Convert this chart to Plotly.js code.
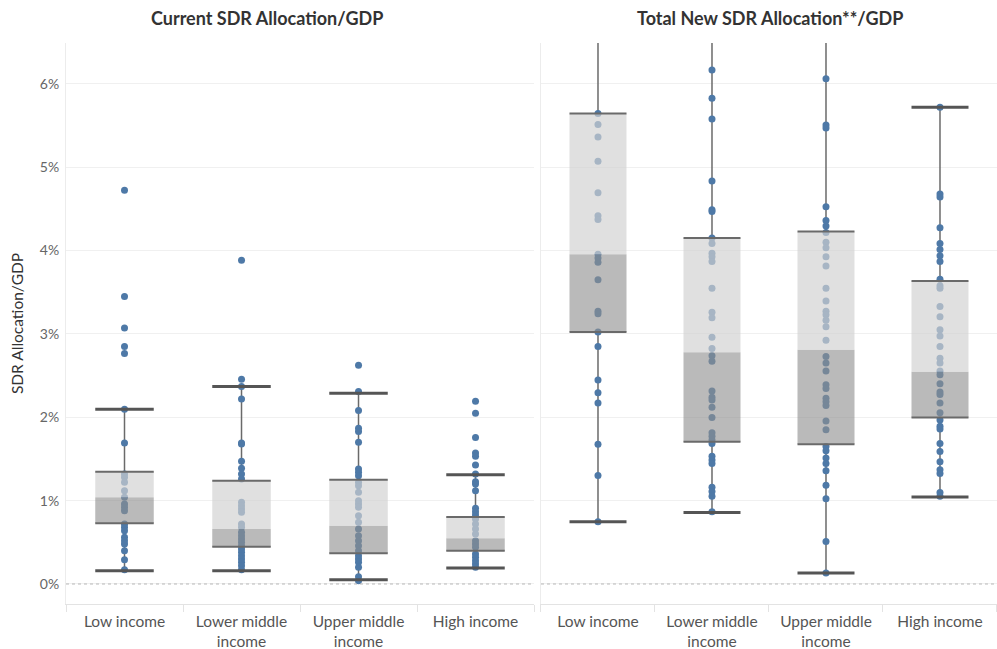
<!DOCTYPE html>
<html>
<head>
<meta charset="utf-8">
<script src="https://cdn.plot.ly/plotly-3.0.1.min.js"></script>
<style>
  html, body { margin: 0; padding: 0; background: #fff; }
  #chart { width: 997px; height: 649px; }
</style>
</head>
<body>
<div id="chart"></div>
<script>
// Income groups shown along both panels
const categories = ['Low income', 'Lower middle<br>income', 'Upper middle<br>income', 'High income'];

// Current SDR allocation as % of GDP: box summary per income group
const curLower  = [0.16, 0.16, 0.052, 0.192];
const curQ1     = [0.728, 0.448, 0.368, 0.40];
const curMedian = [1.04, 0.66, 0.70, 0.548];
const curQ3     = [1.348, 1.24, 1.252, 0.804];
const curUpper  = [2.096, 2.368, 2.288, 1.312];

// Current SDR allocation as % of GDP: individual countries
const curLowIncome = [4.724, 3.448, 3.072, 2.848, 2.764, 2.096, 1.692, 1.32, 1.28, 1.22, 1.12, 1.04,
  0.96, 0.92, 0.88, 0.72, 0.68, 0.64, 0.56, 0.52, 0.48, 0.40, 0.292, 0.172];
const curLowerMiddle = [3.884, 2.456, 2.368, 2.22, 1.692, 1.68, 1.472, 1.388, 1.32, 1.26, 0.98, 0.94,
  0.90, 0.86, 0.72, 0.68, 0.62, 0.58, 0.54, 0.50, 0.46, 0.42, 0.38, 0.34, 0.30, 0.26, 0.22, 0.172];
const curUpperMiddle = [2.624, 2.308, 2.08, 1.868, 1.828, 1.70, 1.38, 1.34, 1.30, 1.22, 1.18, 1.10,
  1.00, 0.96, 0.92, 0.82, 0.74, 0.66, 0.58, 0.52, 0.46, 0.40, 0.34, 0.30, 0.26, 0.20, 0.088, 0.04];
const curHighIncome = [2.192, 2.048, 1.756, 1.572, 1.532, 1.428, 1.32, 1.228, 1.20, 1.12, 0.908, 0.868,
  0.828, 0.78, 0.72, 0.66, 0.60, 0.52, 0.48, 0.44, 0.36, 0.32, 0.28, 0.24, 0.20];

// Total new SDR allocation as % of GDP: box summary per income group
const newLower  = [0.748, 0.857, 0.131, 1.044];
const newQ1     = [3.024, 1.706, 1.675, 1.997];
const newMedian = [3.956, 2.781, 2.81, 2.546];
const newQ3     = [5.644, 4.151, 4.23, 3.634];
const newUpper  = [7.2, 6.9, 6.9, 5.718];

// Total new SDR allocation as % of GDP: individual countries
const newLowIncome = [5.644, 5.513, 5.361, 5.07, 4.695, 4.417, 4.373, 3.956, 3.912, 3.86, 3.651, 3.272,
  3.242, 3.024, 2.85, 2.446, 2.293, 2.171, 1.675, 1.301, 0.748];
const newLowerMiddle = [6.166, 5.827, 5.579, 4.835, 4.491, 4.469, 4.151, 4.086, 3.969, 3.925, 3.869, 3.547,
  3.259, 3.194, 2.959, 2.824, 2.737, 2.672, 2.315, 2.241, 2.206, 2.119, 1.997, 1.815, 1.771, 1.728,
  1.684, 1.532, 1.488, 1.445, 1.162, 1.11, 1.053, 0.866];
const newUpperMiddle = [6.062, 5.505, 5.47, 4.526, 4.36, 4.295, 4.217, 4.099, 4.034, 3.925, 3.816, 3.547,
  3.394, 3.272, 3.229, 3.164, 3.085, 2.924, 2.728, 2.65, 2.554, 2.389, 2.346, 2.228, 2.185, 2.141,
  1.954, 1.849, 1.649, 1.597, 1.51, 1.445, 1.358, 1.184, 1.023, 0.509, 0.131];
const newHighIncome = [5.718, 4.678, 4.643, 4.273, 4.086, 4.012, 3.938, 3.869, 3.655, 3.577, 3.547, 3.329,
  3.207, 3.05, 2.976, 2.85, 2.707, 2.65, 2.554, 2.511, 2.402, 2.302, 2.272, 2.171, 2.054, 1.967,
  1.893, 1.858, 1.684, 1.588, 1.466, 1.371, 1.327, 1.097, 1.053];

// Styling
const FONT = 'Lato, "Open Sans", sans-serif';
const POINT_COLOR = '#4e79a7';
const UPPER_FILL = 'rgba(210,210,210,0.68)';   // median to Q3
const LOWER_FILL = 'rgba(144,144,144,0.62)';   // Q1 to median
const EDGE_COLOR = '#6a6a6a';
const CAP_COLOR = '#555555';
const HALF = 0.25;   // half box width in category units

function panelTraces(stats, groups, xa, ya) {
  const traces = [];
  const n = categories.length;

  // whiskers outside the box
  const wx = [], wy = [];
  for (let i = 0; i < n; i++) {
    wx.push(i, i, null, i, i, null);
    wy.push(stats.lower[i], stats.q1[i], null, stats.q3[i], stats.upper[i], null);
  }
  traces.push({ type: 'scatter', mode: 'lines', x: wx, y: wy, xaxis: xa, yaxis: ya,
    line: { color: EDGE_COLOR, width: 1.5 }, hoverinfo: 'skip', showlegend: false });

  // country points, one column per group
  groups.forEach((vals, i) => {
    traces.push({ type: 'scatter', mode: 'markers', x: vals.map(() => i), y: vals,
      xaxis: xa, yaxis: ya, marker: { color: POINT_COLOR, size: 7 },
      showlegend: false, hovertemplate: '%{y:.2f}%<extra></extra>' });
  });

  // two-tone boxes drawn over the points
  for (let i = 0; i < n; i++) {
    const segs = [
      [stats.q1[i], stats.median[i], LOWER_FILL],
      [stats.median[i], stats.q3[i], UPPER_FILL]
    ];
    segs.forEach(([lo, hi, col]) => {
      traces.push({ type: 'scatter', mode: 'lines', fill: 'toself', fillcolor: col,
        x: [i - HALF, i + HALF, i + HALF, i - HALF, i - HALF],
        y: [lo, lo, hi, hi, lo], xaxis: xa, yaxis: ya,
        line: { width: 0 }, hoverinfo: 'skip', showlegend: false });
    });
  }

  // box edges at Q1 and Q3
  const ex = [], ey = [];
  for (let i = 0; i < n; i++) {
    ex.push(i - HALF, i + HALF, null, i - HALF, i + HALF, null);
    ey.push(stats.q1[i], stats.q1[i], null, stats.q3[i], stats.q3[i], null);
  }
  traces.push({ type: 'scatter', mode: 'lines', x: ex, y: ey, xaxis: xa, yaxis: ya,
    line: { color: EDGE_COLOR, width: 2 }, hoverinfo: 'skip', showlegend: false });

  // whisker caps
  const cx = [], cy = [];
  for (let i = 0; i < n; i++) {
    cx.push(i - HALF, i + HALF, null, i - HALF, i + HALF, null);
    cy.push(stats.lower[i], stats.lower[i], null, stats.upper[i], stats.upper[i], null);
  }
  traces.push({ type: 'scatter', mode: 'lines', x: cx, y: cy, xaxis: xa, yaxis: ya,
    line: { color: CAP_COLOR, width: 3 }, hoverinfo: 'skip', showlegend: false });

  return traces;
}

const data = [].concat(
  panelTraces({ lower: curLower, q1: curQ1, median: curMedian, q3: curQ3, upper: curUpper },
    [curLowIncome, curLowerMiddle, curUpperMiddle, curHighIncome], 'x', 'y'),
  panelTraces({ lower: newLower, q1: newQ1, median: newMedian, q3: newQ3, upper: newUpper },
    [newLowIncome, newLowerMiddle, newUpperMiddle, newHighIncome], 'x2', 'y2')
);

const xCommon = {
  range: [-0.5, 3.5], tickmode: 'array', tickvals: [0, 1, 2, 3], ticktext: categories,
  ticks: '', showgrid: false, zeroline: false, fixedrange: true,
  showline: true, linecolor: '#e3e3e3', linewidth: 1, ticklabelstandoff: 3,
  tickfont: { family: FONT, size: 15.5, color: '#555' },
  minor: { tickvals: [-0.5, 0.5, 1.5, 2.5, 3.5], ticks: 'outside', ticklen: 7,
           tickcolor: '#e3e3e3', tickwidth: 1, showgrid: false }
};
const yCommon = {
  range: [-0.24, 6.49], tickmode: 'linear', tick0: 0, dtick: 1, ticksuffix: '%',
  showgrid: true, gridcolor: '#f0f0f0', gridwidth: 1, zeroline: false, fixedrange: true,
  showline: true, linecolor: '#ececec', linewidth: 1, ticks: '',
  tickfont: { family: FONT, size: 14, color: '#666' }
};

const layout = {
  width: 997, height: 649,
  margin: { l: 66, r: 0, t: 43, b: 45 },
  paper_bgcolor: '#fff', plot_bgcolor: '#fff',
  showlegend: false,
  font: { family: FONT, color: '#444' },
  xaxis: Object.assign({}, xCommon, { domain: [0, 0.5027], anchor: 'y' }),
  xaxis2: Object.assign({}, xCommon, { domain: [0.5102, 1], anchor: 'y2' }),
  yaxis: Object.assign({}, yCommon, {
    anchor: 'x', ticklabelstandoff: 3,
    title: { text: 'SDR Allocation/GDP', standoff: 12, font: { family: FONT, size: 15.5, color: '#333' } }
  }),
  yaxis2: Object.assign({}, yCommon, { anchor: 'x2', matches: 'y', showticklabels: false }),
  shapes: [
    { type: 'line', xref: 'x domain', yref: 'y', x0: 0, x1: 1, y0: 0, y1: 0,
      line: { color: '#b8b8b8', width: 1, dash: 'dot' } },
    { type: 'line', xref: 'x2 domain', yref: 'y2', x0: 0, x1: 1, y0: 0, y1: 0,
      line: { color: '#b8b8b8', width: 1, dash: 'dot' } }
  ],
  annotations: [
    { text: '<b>Current SDR Allocation/GDP</b>', xref: 'paper', yref: 'paper',
      x: 0.2159, y: 1.0446, xanchor: 'center', yanchor: 'middle', showarrow: false,
      font: { family: FONT, size: 18, color: '#333' } },
    { text: '<b>Total New SDR Allocation**/GDP</b>', xref: 'paper', yref: 'paper',
      x: 0.7562, y: 1.0446, xanchor: 'center', yanchor: 'middle', showarrow: false,
      font: { family: FONT, size: 18, color: '#333' } }
  ]
};

Plotly.newPlot('chart', data, layout, { displayModeBar: false, staticPlot: false });
</script>
</body>
</html>
